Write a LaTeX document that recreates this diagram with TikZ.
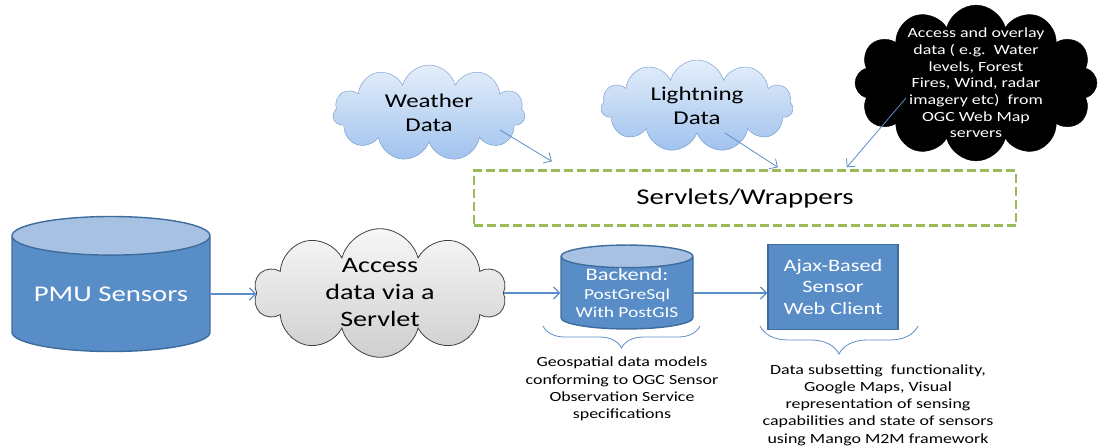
\documentclass[tikz,border=0pt]{standalone}
\usepackage{fontspec}
\setmainfont[FakeStretch=1.28]{Carlito}
\usetikzlibrary{arrows.meta, shapes.geometric, shapes.symbols, positioning,
                decorations.pathreplacing, calc}

\definecolor{linkblue}{RGB}{91,141,201}
\definecolor{dbbody}{RGB}{88,141,200}
\definecolor{dbtop}{RGB}{166,193,226}
\definecolor{dbedge}{RGB}{62,108,156}
\definecolor{wrapgreen}{RGB}{155,187,89}
\definecolor{skytop}{RGB}{228,238,250}
\definecolor{skybot}{RGB}{160,194,238}
\definecolor{skyedge}{RGB}{112,148,200}

\newcommand{\fs}[2]{\fontsize{#1}{#2}\selectfont}

\begin{document}
\begin{tikzpicture}[
    x=1pt, y=-1pt,
    db/.style={cylinder, shape border rotate=90, draw=dbedge, line width=1.4pt,
               cylinder uses custom fill, cylinder body fill=dbbody,
               cylinder end fill=dbtop, text=white, align=center, inner sep=0pt},
    client/.style={draw=dbedge, line width=1.4pt, fill=dbbody, text=white,
                   align=center, inner sep=0pt},
    sky/.style={cloud, cloud puffs=11, cloud ignores aspect, draw=skyedge,
                top color=skytop, bottom color=skybot, align=center,
                inner sep=0pt, font=\fs{19.5}{23.5}},
    grey cloud/.style={cloud, cloud puffs=10, cloud ignores aspect, draw=black!75,
                       line width=0.8pt, top color=gray!6, bottom color=gray!38,
                       align=center, inner sep=0pt, font=\fs{22}{27}},
    wrap/.style={draw=wrapgreen, line width=2.4pt, dash pattern=on 9pt off 4pt,
                 minimum width=542, minimum height=55, font=\fs{22.5}{27}},
    note/.style={align=center, font=\fs{14}{17.2}},
    link/.style={draw=linkblue, line width=1.2pt, -{Straight Barb[length=6pt,width=12pt]}},
    thinlink/.style={draw=linkblue, line width=0.8pt, -{Straight Barb[length=6pt,width=12pt]}},
    brace/.style={draw=linkblue, line width=0.8pt, decorate,
                  decoration={brace, mirror, amplitude=#1}}
]
  \useasboundingbox (0,0) rectangle (1101,447);

  % Sources
  \node[db, minimum width=198, minimum height=135, aspect=0.25, font=\fs{22.5}{27}]
      (pmu) at (111,294) {PMU Sensors};
  \node[grey cloud, minimum width=252, minimum height=128] (access) at (380,293)
      {Access\\data via a\\Servlet};
  \node[sky, minimum width=192, minimum height=96] (weather) at (429,113) {Weather\\Data};
  \node[sky, minimum width=192, minimum height=92] (lightning) at (697,106) {Lightning\\Data};
  \node[cloud, cloud puffs=12, cloud ignores aspect, fill=black, draw=black,
        text=white, align=center, inner sep=-10pt, font=\fs{14}{16.7},
        minimum width=242, minimum height=152] (ogc) at (976,83)
      {Access and overlay\\data ( e.g.\ \ Water\\levels, Forest\\Fires, Wind, radar\\imagery etc)\ \ from\\OGC Web Map\\servers};

  % Middle tier
  \node[wrap] (servlets) at (745,198) {Servlets/Wrappers};
  \node[db, minimum width=132, minimum height=76, aspect=0.22, font=\fs{15.2}{18.5}]
      (backend) at (627,293) {{\fs{17.5}{18.5}Backend:}\\PostGreSql\\With PostGIS};
  \node[client, minimum width=130, minimum height=85, font=\fs{17.4}{21.5}]
      (client) at (833,287) {Ajax-Based\\Sensor\\Web Client};

  % Notes
  \node[note] (dbnote) at (622,389)
      {Geospatial data models\\conforming to OGC Sensor\\Observation Service\\specifications};
  \node[note] (clientnote) at (878,405)
      {Data subsetting\ \ functionality,\\Google Maps, Visual\\representation of sensing\\capabilities and state of sensors\\using Mango M2M framework};

  % Arrows
  \draw[link] (pmu.east) -- (pmu.east -| access.west);
  \draw[link] (access.east) -- (access.east -| backend.west);
  \draw[link] (backend.east) -- (backend.east -| client.west);
  \draw[thinlink] ($(weather.center)+(71,17)$) -- ([xshift=79pt,yshift=8pt]servlets.north west);
  \draw[thinlink] ($(lightning.center)+(28,27)$) -- ([xshift=305pt,yshift=2pt]servlets.north west);
  \draw[thinlink] ($(ogc.center)+(-70,15)$) -- ([xshift=374pt,yshift=2pt]servlets.north west);

  % Braces
  \coordinate (dbl) at (543,326);
  \coordinate (dbr) at (700,326);
  \coordinate (cll) at (760,326);
  \coordinate (clr) at (918,326);
  \draw[brace=22pt] (dbl) -- (dbr);
  \draw[brace=28pt] (cll) -- (clr);
\end{tikzpicture}
\end{document}
